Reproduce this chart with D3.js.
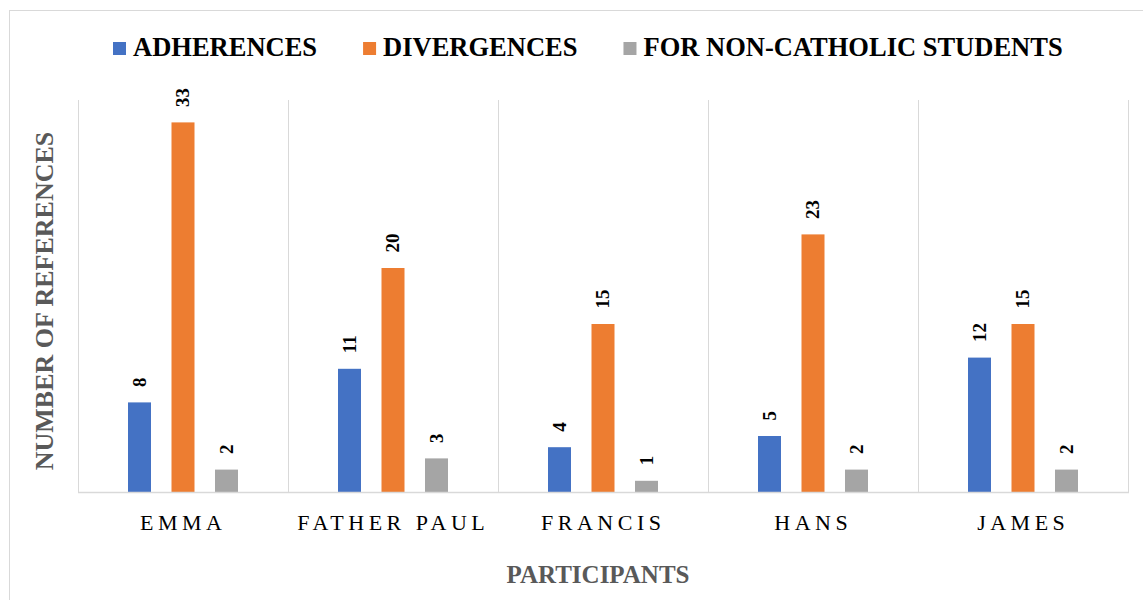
<!DOCTYPE html>
<html>
<head>
<meta charset="utf-8">
<script src="https://cdn.jsdelivr.net/npm/d3@7"></script>
<style>
  html, body { margin: 0; padding: 0; background: #fff; }
  svg { display: block; }
</style>
</head>
<body>
<svg id="chart" width="1143" height="600"></svg>
<script>
// Participants on the category axis
const participants = ["EMMA", "FATHER PAUL", "FRANCIS", "HANS", "JAMES"];
// Series names (legend order)
const seriesNames = ["ADHERENCES", "DIVERGENCES", "FOR NON-CATHOLIC STUDENTS"];
const seriesColors = ["#4472C4", "#ED7D31", "#A5A5A5"];
// Number of references per participant, one array per series
const adherences = [8, 11, 4, 5, 12];
const divergences = [33, 20, 15, 23, 15];
const nonCatholic = [2, 3, 1, 2, 2];
const yAxisTitle = "NUMBER OF REFERENCES";
const xAxisTitle = "PARTICIPANTS";

const seriesValues = [adherences, divergences, nonCatholic];
const SERIF = "'Liberation Serif', 'Times New Roman', Times, serif";

const svg = d3.select("#chart");
const plot = { left: 78, right: 1128, top: 100, bottom: 492 };

// Chart area border
svg.append("rect")
  .attr("x", 9.5).attr("y", 10.5)
  .attr("width", 1150).attr("height", 620)
  .attr("fill", "#fff").attr("stroke", "#D9D9D9").attr("stroke-width", 1);

const x0 = d3.scaleBand().domain(participants).range([plot.left, plot.right]).padding(0);
// Bars inside each category: 23px wide, 43.5px apart, centred on the category
const step = 43.5, barW = 23;
const pIn = 1 - barW / step;
const x1 = d3.scaleBand().domain(seriesNames)
  .range([-step * 1.5, step * 1.5])
  .paddingInner(pIn).paddingOuter(pIn / 2);
const y = d3.scaleLinear().domain([0, 35]).range([plot.bottom, plot.top]);

// Vertical gridlines at category boundaries
const bounds = participants.map(p => x0(p)).concat([plot.right]);
svg.append("g").selectAll("line").data(bounds).join("line")
  .attr("x1", d => Math.round(d) + 0.5).attr("x2", d => Math.round(d) + 0.5)
  .attr("y1", plot.top).attr("y2", plot.bottom)
  .attr("stroke", "#D9D9D9").attr("stroke-width", 1);

// Bars
const rows = [];
participants.forEach((p, i) => {
  seriesNames.forEach((s, j) => rows.push({ p, s, j, v: seriesValues[j][i] }));
});
const cx = d => x0(d.p) + x0.bandwidth() / 2;

svg.append("g").selectAll("rect").data(rows).join("rect")
  .attr("x", d => cx(d) + x1(d.s))
  .attr("y", d => y(d.v))
  .attr("width", x1.bandwidth())
  .attr("height", d => y(0) - y(d.v))
  .attr("fill", d => seriesColors[d.j]);

// Category axis line
svg.append("line")
  .attr("x1", plot.left).attr("x2", plot.right + 1)
  .attr("y1", plot.bottom + 0.5).attr("y2", plot.bottom + 0.5)
  .attr("stroke", "#D9D9D9").attr("stroke-width", 1.5);

// Value labels, rotated above each bar
const labFs = 19;
svg.append("g").selectAll("text").data(rows).join("text")
  .attr("transform", d => {
    const bx = cx(d) + x1(d.s) + x1.bandwidth() / 2 + labFs * 0.34;
    const by = y(d.v) - 15.5;
    return `translate(${bx},${by}) rotate(-90)`;
  })
  .attr("text-anchor", "start")
  .style("font-family", SERIF)
  .attr("font-size", labFs).attr("font-weight", 700).attr("fill", "#000")
  .text(d => d.v);

// Category labels
const ls = 4.5;
svg.append("g").selectAll("text").data(participants).join("text")
  .attr("x", d => x0(d) + x0.bandwidth() / 2 + ls / 2 - 2)
  .attr("y", 530)
  .attr("text-anchor", "middle")
  .style("font-family", SERIF)
  .attr("font-size", 22).attr("letter-spacing", ls).attr("fill", "#000")
  .text(d => d);

// Axis titles
svg.append("text")
  .attr("x", 598).attr("y", 583)
  .attr("text-anchor", "middle")
  .style("font-family", SERIF)
  .attr("font-size", 25).attr("font-weight", 700).attr("fill", "#595959")
  .text(xAxisTitle);

svg.append("text")
  .attr("transform", `translate(53,301) rotate(-90)`)
  .attr("text-anchor", "middle")
  .style("font-family", SERIF)
  .attr("font-size", 26).attr("font-weight", 700).attr("fill", "#595959")
  .text(yAxisTitle);

// Legend
const legend = svg.append("g");
let lx = 113;
seriesNames.forEach((s, j) => {
  legend.append("rect")
    .attr("x", lx).attr("y", 42).attr("width", 13).attr("height", 13)
    .attr("fill", seriesColors[j]);
  const t = legend.append("text")
    .attr("x", lx + 20).attr("y", 56)
    .style("font-family", SERIF)
    .attr("font-size", 26.5).attr("font-weight", 700).attr("fill", "#000")
    .text(s);
  lx += 20 + t.node().getComputedTextLength() + 46;
});
</script>
</body>
</html>
